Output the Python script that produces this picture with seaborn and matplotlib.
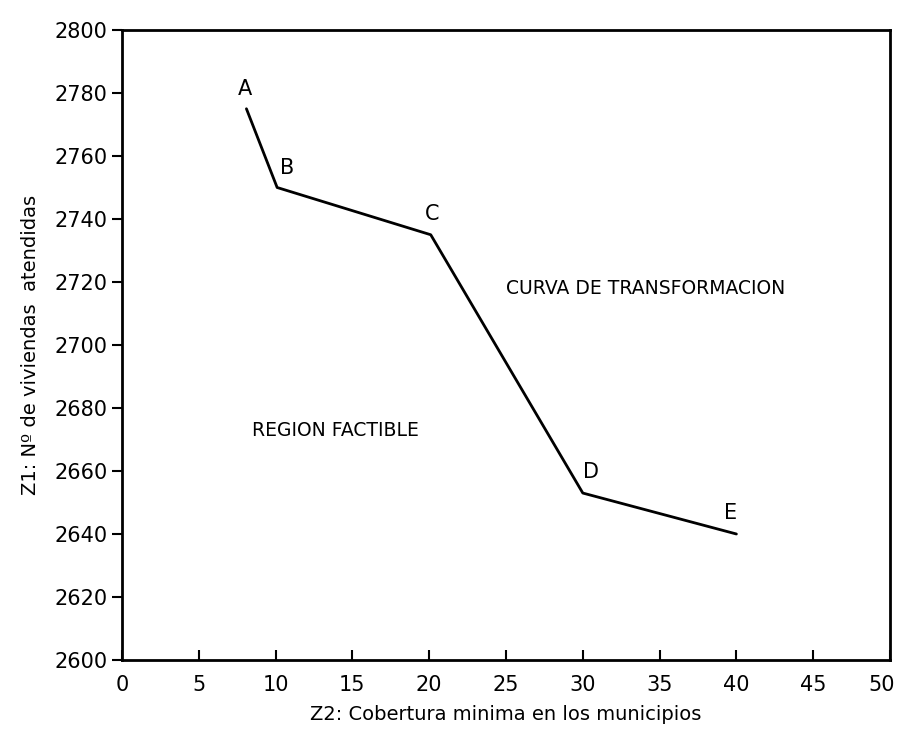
import matplotlib
matplotlib.use('Agg')
import matplotlib.pyplot as plt
import matplotlib.transforms as mtransforms
import seaborn as sns
import pandas as pd

# puntos de la curva de transformacion
puntos = ['A', 'B', 'C', 'D', 'E']
z2_cobertura = [8.1, 10.1, 20.1, 30.0, 40.0]
z1_viviendas = [2775, 2750, 2735, 2653, 2640]

# desplazamiento de etiquetas (puntos tipograficos)
label_offsets = [(-1, 7), (7, 7), (1, 8), (6, 8), (-4, 8)]

x_ticks = list(range(0, 51, 5))
y_ticks = list(range(2600, 2801, 20))

df = pd.DataFrame({'z2': z2_cobertura, 'z1': z1_viviendas, 'pt': puntos})

sns.set_style('ticks')
plt.rcParams['font.family'] = ['DejaVu Sans']
plt.rcParams['text.color'] = 'black'
plt.rcParams['axes.labelcolor'] = 'black'
plt.rcParams['xtick.color'] = 'black'
plt.rcParams['ytick.color'] = 'black'

fig = plt.figure(figsize=(9.01, 7.41), dpi=100)
ax = fig.add_axes([122 / 901, 1 - 660 / 741, (890 - 122) / 901, (660 - 30) / 741])

sns.lineplot(data=df, x='z2', y='z1', ax=ax, color='black', linewidth=2, sort=False)

for _, r in df.iterrows():
    dx, dy = label_offsets[puntos.index(r['pt'])]
    ax.annotate(r['pt'], (r['z2'], r['z1']), xytext=(dx, dy), textcoords='offset points',
                ha='center', va='bottom', fontsize=15)

ax.text(34.1, 2718, 'CURVA DE TRANSFORMACION', ha='center', va='center', fontsize=13.5)
ax.text(13.9, 2673, 'REGION FACTIBLE', ha='center', va='center', fontsize=13.5)

ax.set_xlim(0, 50)
ax.set_ylim(2600, 2800)
ax.set_xticks(x_ticks)
ax.set_yticks(y_ticks)
ax.tick_params(axis='x', direction='in', length=7, width=1.5, labelsize=15, pad=11)
ax.tick_params(axis='y', direction='out', length=7, width=1.5, labelsize=15)
for s in ax.spines.values():
    s.set_linewidth(2)
    s.set_color('black')

# el ultimo rotulo del eje x se corre un poco para que no se corte
last = ax.get_xticklabels()[-1]
last.set_transform(last.get_transform() + mtransforms.ScaledTranslation(-8 / 100, 0, fig.dpi_scale_trans))

ax.set_xlabel('Z2: Cobertura minima en los municipios', fontsize=14, labelpad=7)
ax.set_ylabel('Z1: Nº de viviendas  atendidas', fontsize=14, labelpad=10)

fig.savefig('out.png', dpi=100)
